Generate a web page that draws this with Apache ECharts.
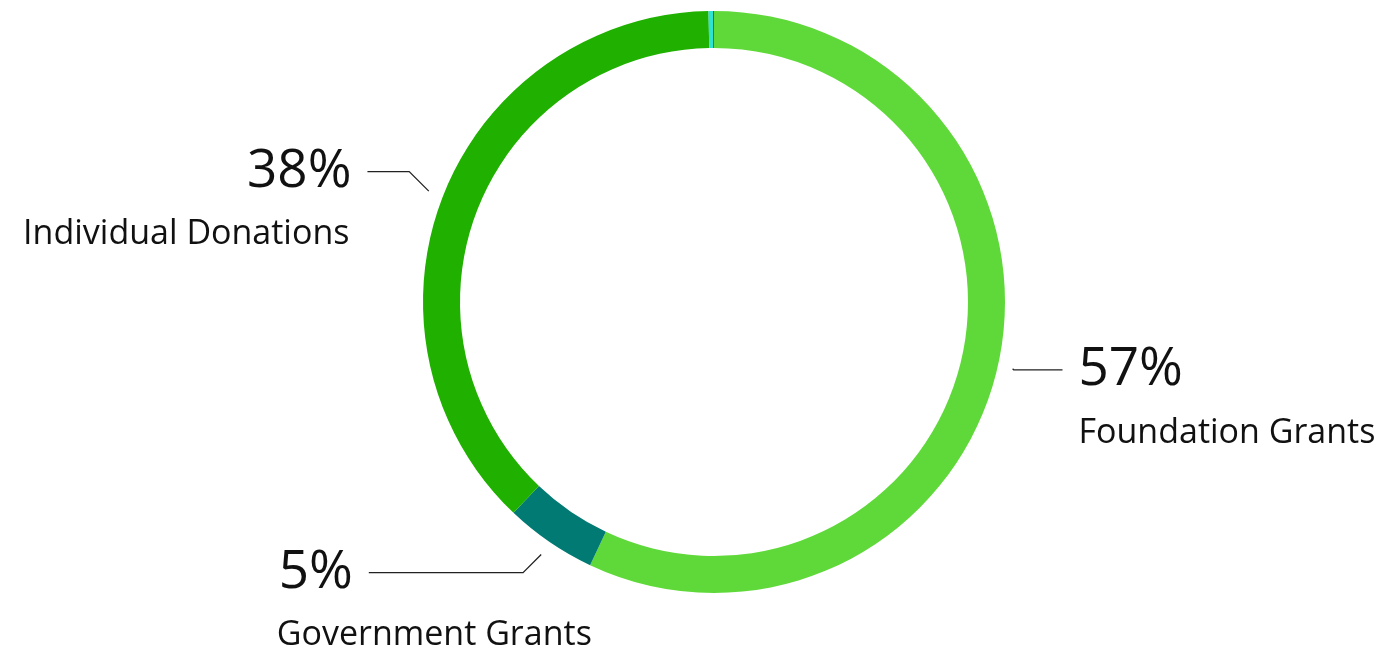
<!DOCTYPE html>
<html>
<head>
<meta charset="utf-8">
<title>Funding sources</title>
<script src="https://cdn.jsdelivr.net/npm/echarts@6/dist/echarts.min.js"></script>
<style>
  html, body { margin: 0; padding: 0; background: #fff; }
  #funding-chart { width: 1378px; height: 656px; }
</style>
</head>
<body>
<div id="funding-chart"></div>
<script>
// data (share of total, %)
var categories = ['Foundation Grants', 'Government Grants', 'Individual Donations', 'Earned Income', 'Other']
var shares = [57.0, 5.1, 37.6, 0.25, 0.05]
var colors = ['#5fd93a', '#007a72', '#1fb000', '#2ee3d3', '#17524d']
var labelled = [true, true, true, false, false]

var FONT = '"Open Sans", "Noto Sans", sans-serif'

function richFor (pAlign, nAlign, nPadRight) {
  return {
    p: { fontFamily: FONT, fontSize: 53, lineHeight: 62, color: '#111', align: pAlign },
    n: { fontFamily: FONT, fontSize: 34, lineHeight: 64, color: '#111', align: nAlign, padding: [0, nPadRight || 0, 0, 0] }
  }
}

// per slice label tweaks (line lengths / text alignment)
var lineLengths = [[20, 45], [37, 160], [69, 11], [10, 10], [10, 10]]
var labelExtra = [
  { rich: richFor('left', 'left') },
  { width: 76, overflow: 'none', rich: richFor('right', 'left') },
  { rich: richFor('right', 'right', 2) },
  {},
  {}
]

var pieData = categories.map(function (name, i) {
  var item = {
    name: name,
    value: shares[i],
    itemStyle: { color: colors[i] },
    labelLine: { show: labelled[i], length: lineLengths[i][0], length2: lineLengths[i][1] }
  }
  item.label = Object.assign({ show: labelled[i] }, labelExtra[i])
  return item
})

var chart = echarts.init(document.getElementById('funding-chart'))
chart.setOption({
  animation: false,
  series: [{
    type: 'pie',
    center: [714, 302],
    radius: [254, 291],
    startAngle: 90,
    clockwise: true,
    avoidLabelOverlap: false,
    percentPrecision: 0,
    emphasis: { disabled: true },
    label: {
      position: 'outside',
      formatter: '{p|{d}%}\n{n|{b}}',
      padding: [64, 0, 0, 0],
      distanceToLabelLine: 16,
      rich: richFor('left', 'left')
    },
    labelLine: {
      lineStyle: { color: '#222', width: 1.3 }
    },
    // leader lines start a little off the ring and bend at 45 degrees
    labelLayout: function (params) {
      var pts = params.labelLinePoints
      if (!pts || pts.length < 3) return {}
      var a = pts[0]
      var b = pts[1]
      var c = pts[2]
      var dx = b[0] - a[0]
      var dy = b[1] - a[1]
      var len = Math.sqrt(dx * dx + dy * dy)
      if (len < 3) return {}
      var g = Math.min(15, len - 2) / len
      var start = [a[0] + dx * g, a[1] + dy * g]
      var side = c[0] > start[0] ? 1 : -1
      var elbow = [start[0] + side * Math.abs(c[1] - start[1]), c[1]]
      return { labelLinePoints: [start, elbow, c] }
    },
    data: pieData
  }]
})
</script>
</body>
</html>
